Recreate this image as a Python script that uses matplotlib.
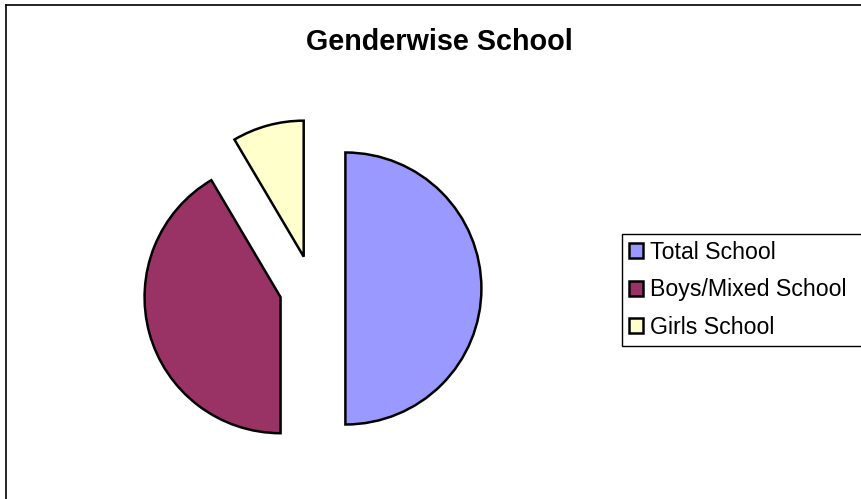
import matplotlib
matplotlib.use("Agg")
import matplotlib.pyplot as plt
from matplotlib.lines import Line2D
from matplotlib.patches import Patch

plt.rcParams['font.family'] = ['Liberation Sans', 'DejaVu Sans']

# Data
categories = ["Total School", "Boys/Mixed School", "Girls School"]
values = [100, 83, 17]
colors = ["#9999FF", "#993366", "#FFFFCC"]
title = "Genderwise School"

W, H = 861, 499
fig = plt.figure(figsize=(W / 100, H / 100), dpi=100)
fig.patch.set_facecolor("white")

# Axes in pixel units (y up)
ax = fig.add_axes([0, 0, 1, 1])
cx, cy, r = 312.4, H - 288.5, 136
wedges, _ = ax.pie(values, colors=colors, startangle=90, counterclock=False,
                   explode=[33] * len(values), center=(cx, cy), radius=r,
                   wedgeprops=dict(edgecolor="black", linewidth=1.8),
                   frame=True)
ax.set_xlim(0, W)
ax.set_ylim(0, H)
ax.set_aspect("equal")
ax.axis("off")

# Title
fig.text(439 / W, 1 - 49.5 / H, title, ha="center", va="baseline",
         fontsize=20.7, fontweight="bold")

# Legend
handles = [Patch(facecolor=c, edgecolor="black", linewidth=1.8) for c in colors]
bh = 0.05
leg = fig.legend(handles, categories, loc="upper left",
                 bbox_to_anchor=(622 / W, 1 - 234 / H - bh, (900 - 622) / W, bh),
                 mode="expand", fontsize=16.7, frameon=True, fancybox=False,
                 handlelength=0.62, handleheight=0.62, handletextpad=0.3,
                 borderpad=0.3, borderaxespad=0, labelspacing=0.62,
                 edgecolor="black", framealpha=1)
leg.get_frame().set_linewidth(1.0)

# Chart-area border (top and left visible)
top = 1 - 4.5 / H
left = 5.5 / W
fig.add_artist(Line2D([left, 1.01], [top, top], transform=fig.transFigure,
                      color="black", linewidth=1.2))
fig.add_artist(Line2D([left, left], [top, -0.01], transform=fig.transFigure,
                      color="black", linewidth=1.2))

fig.savefig("out.png", dpi=100)
